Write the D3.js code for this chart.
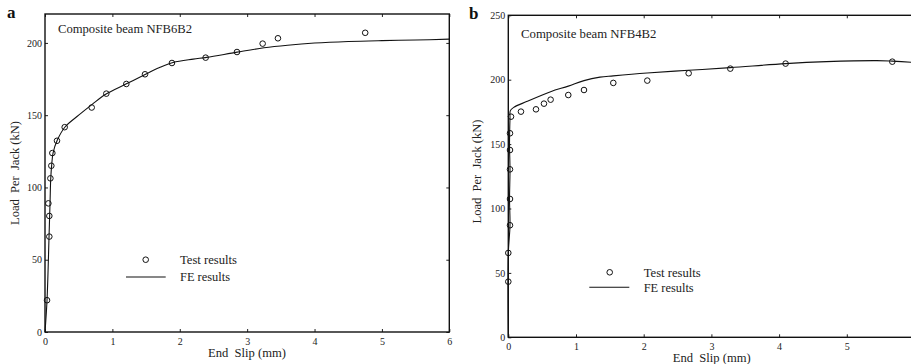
<!DOCTYPE html>
<html><head><meta charset="utf-8">
<script src="https://cdn.jsdelivr.net/npm/d3@7"></script>
<style>
body{margin:0;background:#fff;}
svg{display:block;font-family:"Liberation Serif","Times New Roman",serif;}
text{white-space:pre;}
</style></head><body>
<svg id="c" width="911" height="364"></svg>
<script>
// ---------- data ----------
const aXTicks = [0,1,2,3,4,5,6];
const bXTicks = [0,1,2,3,4,5];
const aYTicks = [0,50,100,150,200];
const bYTicks = [0,50,100,150,200,250];

const aTestSlip = [0.03,0.064,0.064,0.05,0.08,0.094,0.109,0.178,0.292,0.693,0.91,1.207,1.484,1.884,2.384,2.849,3.23,3.457,4.752];
const aTestLoad = [22,66,80.3,89,106.3,115,123.8,132.3,141.7,155.3,164.9,171.6,178.3,186.1,189.8,193.7,199.5,203.2,207];
const aFeSlip = [0,0.03,0.06,0.075,0.085,0.1,0.12,0.18,0.3,0.5,0.7,0.9,1.2,1.5,1.7,1.9,2.2,2.4,2.85,3.25,3.6,4,4.5,5,5.5,6];
const aFeLoad = [0,22,66,90,106,116,124,132.5,142,150,157.5,164.5,171.5,178.5,183,186.5,188.8,190,193.6,196.6,198.4,199.9,201,201.6,202,202.6];

const bTestSlip = [0,0,0.025,0.025,0.025,0.025,0.025,0.04,0.187,0.409,0.527,0.625,0.886,1.118,1.551,2.053,2.664,3.279,4.096,5.672];
const bTestLoad = [43.2,65.5,87,107.4,130.4,145.4,158.4,171.3,175.2,177,181.4,184.5,188.1,192,197.5,199.3,205,208.6,212.5,214];
const bFeSlip = [0,0,0.025,0.018,0.025,0.018,0.025,0.03,0.08,0.27,0.625,0.886,1.118,1.354,1.55,2.05,2.664,3.28,4.096,4.7,5.44,5.67,5.95];
const bFeLoad = [0,65,87,107,130,150,170,176,178.5,183,190.7,195,199.3,202,203,205.2,207.3,209.4,212.5,214,214.8,214.4,213.5];

const svg = d3.select("#c");

function panel(o){
  const g = svg.append("g");
  const x = d3.scaleLinear().domain([0,6]).range([o.left,o.right]);
  const y = d3.scaleLinear().domain([0,o.ymax]).range([o.bottom,o.top]);
  const tl = 3;
  const bottomAx = d3.axisBottom(x).tickValues(o.xTicks).tickSize(-tl).tickPadding(6).tickFormat(d3.format("d"));
  const topAx = d3.axisTop(x).tickValues(o.xTicks).tickSize(-tl).tickFormat("");
  const leftAx = d3.axisLeft(y).tickValues(o.yTicks).tickSize(-tl).tickPadding(3).tickFormat(d3.format("d"));
  const rightAx = d3.axisRight(y).tickValues(o.yTicks).tickSize(-tl).tickFormat("");
  const ax = [
    [bottomAx,`translate(0,${o.bottom})`],
    [topAx,`translate(0,${o.top})`],
    [leftAx,`translate(${o.left},0)`],
    [rightAx,`translate(${o.right},0)`]
  ];
  ax.forEach(([a,t])=>{
    const ag = g.append("g").attr("transform",t).call(a);
    ag.select(".domain").remove();
    ag.selectAll("line").attr("stroke","#222").attr("stroke-width",1);
    ag.selectAll("text").attr("font-family","Liberation Serif").attr("font-size",10).attr("fill","#222");
  });
  g.append("rect").attr("x",o.left).attr("y",o.top)
    .attr("width",o.right-o.left).attr("height",o.bottom-o.top)
    .attr("fill","none").attr("stroke","#111").attr("stroke-width",1.4);
  const fe = o.feX.map((d,i)=>[d,o.feY[i]]);
  g.append("path").datum(fe)
    .attr("d",d3.line().x(d=>x(d[0])).y(d=>y(d[1])).curve(d3.curveCatmullRom.alpha(0.5)))
    .attr("fill","none").attr("stroke","#111").attr("stroke-width",1.1);
  g.selectAll("circle.t").data(o.tX.map((d,i)=>[d,o.tY[i]])).enter().append("circle")
    .attr("cx",d=>x(d[0])).attr("cy",d=>y(d[1])).attr("r",2.8)
    .attr("fill","none").attr("stroke","#111").attr("stroke-width",1);
  g.append("text").attr("x",o.left+o.titleDx).attr("y",o.titleY).attr("font-size",13)
    .attr("textLength",o.titleW).attr("lengthAdjust","spacingAndGlyphs").attr("fill","#222").text(o.title);
  g.append("circle").attr("cx",o.legCx).attr("cy",o.legY1).attr("r",2.8).attr("fill","none").attr("stroke","#111");
  g.append("text").attr("x",o.legTx).attr("y",o.legY1).attr("dy","0.35em").attr("font-size",12)
    .attr("textLength",57).attr("lengthAdjust","spacingAndGlyphs").attr("fill","#222").text("Test results");
  g.append("line").attr("x1",o.legL1).attr("x2",o.legL2).attr("y1",o.legY2).attr("y2",o.legY2).attr("stroke","#111").attr("stroke-width",1.1);
  g.append("text").attr("x",o.legTx).attr("y",o.legY2).attr("dy","0.35em").attr("font-size",12)
    .attr("textLength",50).attr("lengthAdjust","spacingAndGlyphs").attr("fill","#222").text("FE results");
  g.append("text").attr("x",o.xtX).attr("y",o.xtY).attr("text-anchor","middle").attr("font-size",12.5)
    .attr("textLength",78).attr("lengthAdjust","spacingAndGlyphs").attr("fill","#222").text("End  Slip (mm)");
  g.append("text").attr("transform",`translate(${o.ytX},${o.ytY}) rotate(-90)`).attr("text-anchor","middle").attr("font-size",12.5)
    .attr("textLength",104).attr("lengthAdjust","spacingAndGlyphs").attr("fill","#222").text("Load  Per  Jack (kN)");
  g.append("text").attr("x",o.letX).attr("y",o.letY).attr("font-size",17).attr("font-weight","bold").attr("fill","#111").text(o.letter);
}

panel({left:45,right:449.3,top:14,bottom:332,ymax:220,xTicks:aXTicks,yTicks:aYTicks,
  feX:aFeSlip,feY:aFeLoad,tX:aTestSlip,tY:aTestLoad,
  title:"Composite beam NFB6B2",titleDx:13,titleY:32.5,titleW:134,
  legCx:145.7,legY1:259.7,legTx:180,legL1:126,legL2:165.7,legY2:277,
  xtX:247,xtY:357,ytX:19,ytY:173,letter:"a",letX:7,letY:18});

panel({left:508.3,right:914.5,top:15.3,bottom:337.3,ymax:250,xTicks:bXTicks,yTicks:bYTicks,
  feX:bFeSlip,feY:bFeLoad,tX:bTestSlip,tY:bTestLoad,
  title:"Composite beam NFB4B2",titleDx:12.7,titleY:37.5,titleW:135.5,
  legCx:609.7,legY1:272.3,legTx:643.7,legL1:589.3,legL2:629.3,legY2:287.3,
  xtX:711.7,xtY:362,ytX:481,ytY:171.5,letter:"b",letX:469,letY:19});
</script>
</body></html>
